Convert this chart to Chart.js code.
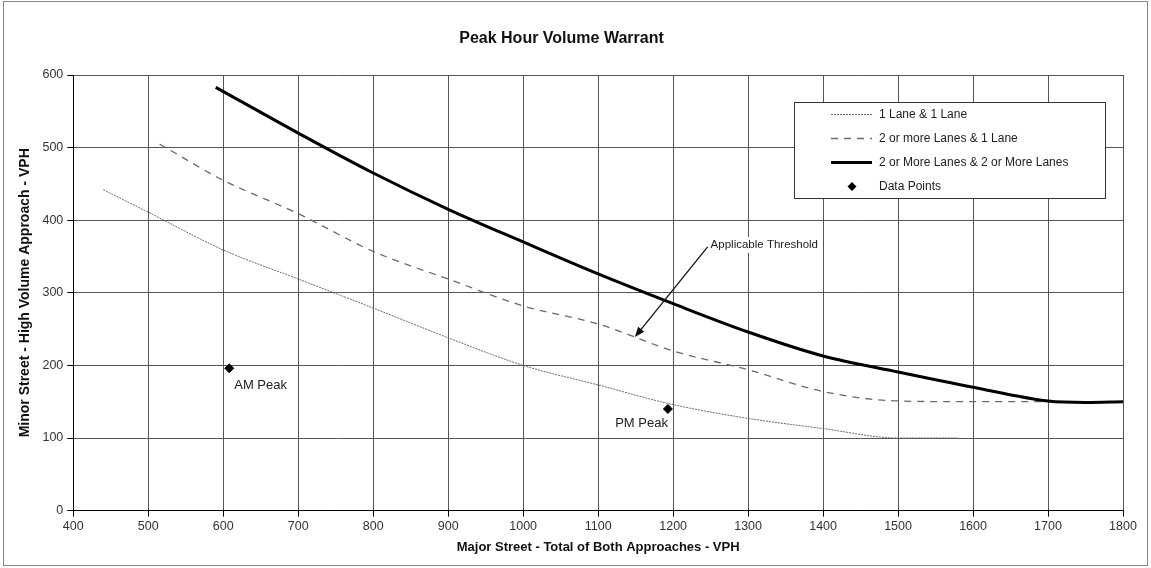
<!DOCTYPE html>
<html>
<head>
<meta charset="utf-8">
<title>Peak Hour Volume Warrant</title>
<script src="https://cdn.jsdelivr.net/npm/chart.js@4.4.1/dist/chart.umd.min.js"></script>
<style>
  html, body { margin: 0; padding: 0; background: #fff; }
  #wrap { width: 1151px; height: 568px; }
</style>
</head>
<body>
<div id="wrap"><canvas id="chart" width="1151" height="568"></canvas></div>
<script>
/* global Chart */

// values
const oneLaneX = [440, 500, 600, 700, 800, 900, 1000, 1100, 1200, 1300, 1400, 1500, 1580];
const oneLaneY = [442, 411, 359, 319, 279, 238, 200, 173, 146, 127, 113, 100, 100];

const twoOneX = [515, 600, 700, 800, 900, 1000, 1100, 1200, 1300, 1400, 1500, 1600, 1720];
const twoOneY = [505, 455, 409, 357, 319, 282, 257, 220, 194, 164, 151, 150, 150];

const twoTwoX = [590, 700, 800, 900, 1000, 1100, 1200, 1300, 1400, 1500, 1600, 1700, 1750, 1800];
const twoTwoY = [583, 520, 465, 415, 370, 326, 285, 246, 213, 191, 170, 151, 149, 150];

const pointX = [608, 1193];
const pointY = [196, 140];
const pointLabels = ['AM Peak', 'PM Peak'];

const xTicks = [400, 500, 600, 700, 800, 900, 1000, 1100, 1200, 1300, 1400, 1500, 1600, 1700, 1800];
const yTicks = [0, 100, 200, 300, 400, 500, 600];

const thresholdNote = { text: 'Applicable Threshold', x: 1250, y: 366, tipX: 1149, tipY: 239 };

const FONT = '"Liberation Sans", Arial, sans-serif';
const toPoints = (xs, ys) => xs.map((x, i) => ({ x, y: ys[i] }));

// pixel offsets of the point labels from their markers
const labelOffsets = [
  { dx: 5, dy: 17, align: 'left' },
  { dx: 0, dy: 14, align: 'right' }
];

const extras = {
  id: 'extras',
  afterDatasetsDraw(chart) {
    const { ctx, scales: { x, y } } = chart;
    ctx.save();

    // point labels
    ctx.font = '13px ' + FONT;
    ctx.fillStyle = '#222';
    ctx.textBaseline = 'middle';
    pointLabels.forEach((t, i) => {
      const o = labelOffsets[i];
      ctx.textAlign = o.align;
      ctx.fillText(t, x.getPixelForValue(pointX[i]) + o.dx, y.getPixelForValue(pointY[i]) + o.dy);
    });

    // threshold note with arrow
    const tx = x.getPixelForValue(thresholdNote.x);
    const ty = y.getPixelForValue(thresholdNote.y);
    ctx.font = '11.5px ' + FONT;
    const w = ctx.measureText(thresholdNote.text).width;
    ctx.fillStyle = '#fff';
    ctx.fillRect(tx - 1, ty - 8, w + 3, 16);
    ctx.fillStyle = '#222';
    ctx.textAlign = 'left';
    ctx.fillText(thresholdNote.text, tx, ty);

    const ax = tx - 3, ay = ty + 2;
    const bx = x.getPixelForValue(thresholdNote.tipX);
    const by = y.getPixelForValue(thresholdNote.tipY);
    const ang = Math.atan2(by - ay, bx - ax);
    ctx.strokeStyle = '#111';
    ctx.lineWidth = 1.3;
    ctx.beginPath();
    ctx.moveTo(ax, ay);
    ctx.lineTo(bx - 6 * Math.cos(ang), by - 6 * Math.sin(ang));
    ctx.stroke();
    ctx.fillStyle = '#111';
    ctx.beginPath();
    ctx.moveTo(bx, by);
    ctx.lineTo(bx - 10 * Math.cos(ang) + 4 * Math.sin(ang), by - 10 * Math.sin(ang) - 4 * Math.cos(ang));
    ctx.lineTo(bx - 10 * Math.cos(ang) - 4 * Math.sin(ang), by - 10 * Math.sin(ang) + 4 * Math.cos(ang));
    ctx.closePath();
    ctx.fill();

    // legend box
    const lx = 794, ly = 102, lw = 311, lh = 96;
    ctx.fillStyle = '#fff';
    ctx.fillRect(lx, ly, lw, lh);
    ctx.strokeStyle = '#333';
    ctx.lineWidth = 1;
    ctx.strokeRect(lx + 0.5, ly + 0.5, lw, lh);
    ctx.font = '12px ' + FONT;
    ctx.textAlign = 'left';
    chart.data.datasets.forEach((ds, i) => {
      const ry = ly + 12.5 + i * 24;
      if (ds.showLine === false) {
        ctx.fillStyle = '#000';
        ctx.beginPath();
        ctx.moveTo(852, ry - 4.5);
        ctx.lineTo(856.5, ry);
        ctx.lineTo(852, ry + 4.5);
        ctx.lineTo(847.5, ry);
        ctx.closePath();
        ctx.fill();
      } else {
        ctx.strokeStyle = ds.borderColor;
        ctx.lineWidth = ds.borderWidth;
        ctx.setLineDash(ds.borderDash || []);
        ctx.beginPath();
        ctx.moveTo(831, ry);
        ctx.lineTo(872, ry);
        ctx.stroke();
        ctx.setLineDash([]);
      }
      ctx.fillStyle = '#222';
      ctx.fillText(ds.label, 879, ry);
    });

    // outer frame
    ctx.strokeStyle = '#888';
    ctx.lineWidth = 1;
    ctx.strokeRect(3.5, 1.5, 1144, 564);
    ctx.restore();
  }
};

new Chart(document.getElementById('chart'), {
  type: 'line',
  data: {
    datasets: [
      {
        label: '1 Lane & 1 Lane',
        data: toPoints(oneLaneX, oneLaneY),
        borderColor: '#6a6a6a',
        borderWidth: 1,
        borderDash: [2, 1],
        pointRadius: 0,
        cubicInterpolationMode: 'monotone',
        order: 3
      },
      {
        label: '2 or more Lanes & 1 Lane',
        data: toPoints(twoOneX, twoOneY),
        borderColor: '#6a6a6a',
        borderWidth: 1.3,
        borderDash: [7, 6],
        pointRadius: 0,
        cubicInterpolationMode: 'monotone',
        order: 2
      },
      {
        label: '2 or More Lanes & 2 or More Lanes',
        data: toPoints(twoTwoX, twoTwoY),
        borderColor: '#000',
        borderWidth: 3,
        pointRadius: 0,
        cubicInterpolationMode: 'monotone',
        order: 1
      },
      {
        label: 'Data Points',
        data: toPoints(pointX, pointY),
        showLine: false,
        pointStyle: 'rectRot',
        pointRadius: 4.5,
        backgroundColor: '#000',
        borderColor: '#000',
        order: 0
      }
    ]
  },
  options: {
    responsive: false,
    animation: false,
    layout: { padding: { left: 0, right: 28, top: 0, bottom: 0 } },
    scales: {
      x: {
        type: 'linear',
        min: 400,
        max: 1800,
        afterBuildTicks: s => { s.ticks = xTicks.map(v => ({ value: v })); },
        afterFit: s => { s.height = 57.4; },
        ticks: {
          color: '#333',
          font: { family: FONT, size: 12.5 },
          padding: 2,
          maxRotation: 0,
          autoSkip: false,
          callback: v => String(v)
        },
        grid: { color: '#555', tickLength: 6, tickColor: '#000' },
        border: { display: true, color: '#000', width: 1 },
        title: {
          display: true,
          text: 'Major Street - Total of Both Approaches - VPH',
          color: '#111',
          font: { family: FONT, size: 13, weight: 'bold' },
          padding: { top: 0, bottom: 13 }
        }
      },
      y: {
        min: 0,
        max: 600,
        afterBuildTicks: s => { s.ticks = yTicks.map(v => ({ value: v })); },
        afterFit: s => { s.width = 73.3; },
        ticks: { color: '#333', font: { family: FONT, size: 12.5 }, padding: 4, callback: v => String(v) },
        grid: { color: '#555', tickLength: 6, tickColor: '#000' },
        border: { display: true, color: '#000', width: 1 },
        title: {
          display: true,
          text: 'Minor Street - High Volume Approach - VPH',
          color: '#111',
          font: { family: FONT, size: 14, weight: 'bold' },
          padding: { top: 17, bottom: 0 }
        }
      }
    },
    plugins: {
      legend: { display: false },
      tooltip: { enabled: false },
      title: {
        display: true,
        text: 'Peak Hour Volume Warrant',
        color: '#111',
        font: { family: FONT, size: 16, weight: 'bold' },
        padding: { top: 29, bottom: 26.8 }
      }
    }
  },
  plugins: [extras]
});
</script>
</body>
</html>
